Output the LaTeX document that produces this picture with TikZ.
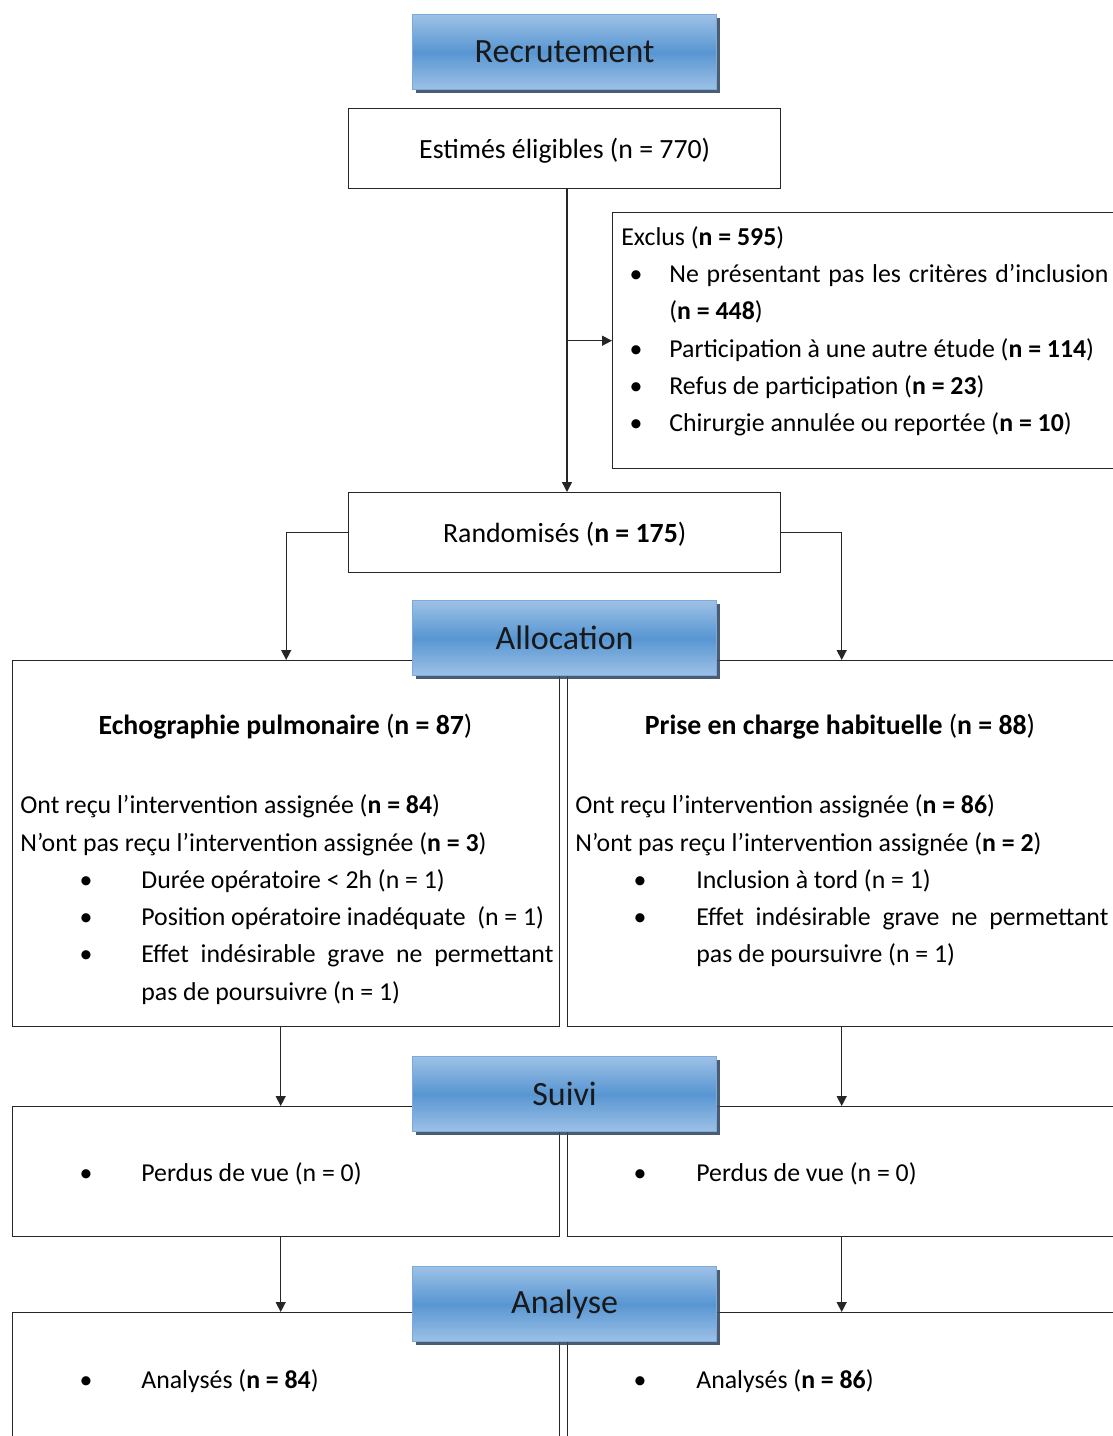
\documentclass[tikz,border=0pt]{standalone}
\usepackage{fontspec}
\setmainfont{Carlito}
\usetikzlibrary{arrows.meta,shadows}

\definecolor{hdrlight}{RGB}{157,193,230}
\definecolor{hdrmid}{RGB}{88,150,210}
\definecolor{hdredge}{RGB}{125,170,220}
\definecolor{hdrshade}{RGB}{55,75,100}

\newcommand\flowtext{\fontsize{12.9}{15}\selectfont}
\newcommand\flowbig{\fontsize{13.9}{16}\selectfont}
\newcommand\flowhead{\fontsize{17}{20}\selectfont}
\newcommand\nb[1]{(\textbf{n = #1})}
\newcommand\lowered[1]{\raisebox{-5pt}[0pt][0pt]{#1}}
\newcommand\flowitem[5]{
  \node[dot] (#1b) at (#2,#4) {\textbullet};
  \node[txt] (#1) at (#3,#4) {#5};
}

\tikzset{
  box/.style={draw=black!85, line width=0.7pt, fill=white, inner sep=0pt,
    anchor=north west, font=\flowbig},
  hdr/.style={draw=hdredge, line width=0.6pt, top color=hdrlight,
    bottom color=hdrlight, middle color=hdrmid, minimum width=152pt,
    minimum height=37.5pt, anchor=north west, font=\flowhead, text=black!90,
    drop shadow={shadow xshift=1.6pt, shadow yshift=-1.6pt, fill=hdrshade, opacity=0.9}},
  txt/.style={inner sep=0pt, font=\flowtext, anchor=base west},
  dot/.style={inner sep=0pt, font=\flowtext, anchor=base},
  arr/.style={-{Triangle[width=5pt,length=5pt]}, line width=0.7pt, draw=black!85},
}

\begin{document}
\begin{tikzpicture}[x=0.5pt, y=-0.5pt]
  \useasboundingbox (0,0) rectangle (1113,1436);
  \clip (0,0) rectangle (1113,1436);
  \coordinate (trunk) at (567,0);

  % boxes
  \node[box, minimum width=216pt, minimum height=40pt] (est) at (348,108) {\lowered{Estimés éligibles (n = 770)}};
  \node[box, minimum width=252pt, minimum height=128pt] (excl) at (612,212) {};
  \node[box, minimum width=216pt, minimum height=40pt] (rand) at (348,492) {\lowered{Randomisés \nb{175}}};
  \node[box, minimum width=273.5pt, minimum height=183pt] (L1) at (12,660) {};
  \node[box, minimum width=274pt, minimum height=183pt] (R1) at (567,660) {};
  \node[box, minimum width=273.5pt, minimum height=65pt] (L2) at (12,1106) {};
  \node[box, minimum width=274pt, minimum height=65pt] (R2) at (567,1106) {};
  \node[box, minimum width=273.5pt, minimum height=75pt] (L3) at (12,1312) {};
  \node[box, minimum width=274pt, minimum height=75pt] (R3) at (567,1312) {};

  % exclus
  \node[txt] (ex0) at (621,245) {Exclus \nb{595}};
  \flowitem{ex1}{636}{669}{282}{\makebox[219.5pt][s]{Ne présentant pas les critères d’inclusion}}
  \node[txt] (ex1c) at (669,319) {\nb{448}};
  \flowitem{ex2}{636}{669}{357}{Participation à une autre étude \nb{114}}
  \flowitem{ex3}{636}{669}{394}{Refus de participation \nb{23}}
  \flowitem{ex4}{636}{669}{431}{Chirurgie annulée ou reportée \nb{10}}

  % allocation
  \node[txt, font=\flowbig, anchor=base] (L1t) at (285.5,734) {\textbf{Echographie pulmonaire} \nb{87}};
  \node[txt] (L1a) at (20,813) {Ont reçu l’intervention assignée \nb{84}};
  \node[txt] (L1n) at (20,851) {N’ont pas reçu l’intervention assignée \nb{3}};
  \flowitem{L1i}{86}{141}{888}{Durée opératoire < 2h (n = 1)}
  \flowitem{L1j}{86}{141}{925}{Position opératoire inadéquate \ (n = 1)}
  \flowitem{L1k}{86}{141}{962}{\makebox[206pt][s]{Effet indésirable grave ne permettant}}
  \node[txt] (L1l) at (141,1000) {pas de poursuivre (n = 1)};

  \node[txt, font=\flowbig, anchor=base] (R1t) at (840,734) {\textbf{Prise en charge habituelle} \nb{88}};
  \node[txt] (R1a) at (575,813) {Ont reçu l’intervention assignée \nb{86}};
  \node[txt] (R1n) at (575,851) {N’ont pas reçu l’intervention assignée \nb{2}};
  \flowitem{R1i}{640}{696}{888}{Inclusion à tord (n = 1)}
  \flowitem{R1k}{640}{696}{925}{\makebox[206pt][s]{Effet indésirable grave ne permettant}}
  \node[txt] (R1l) at (696,962) {pas de poursuivre (n = 1)};

  % suivi, analyse
  \flowitem{L2i}{86}{141}{1181}{Perdus de vue (n = 0)}
  \flowitem{R2i}{640}{696}{1181}{Perdus de vue (n = 0)}
  \flowitem{L3i}{86}{141}{1388}{Analysés \nb{84}}
  \flowitem{R3i}{640}{696}{1388}{Analysés \nb{86}}

  % connectors
  \draw[arr] (est.south -| trunk) -- (rand.north -| trunk);
  \draw[arr] (excl.west -| trunk) -- (excl.west);
  \draw[arr] (rand.west) -| (L1.north);
  \draw[arr] (rand.east) -| (R1.north);
  \draw[arr] ([xshift=-2.75pt]L1.south) -- ([xshift=-2.75pt]L2.north);
  \draw[arr] (R1.south) -- (R2.north);
  \draw[arr] ([xshift=-2.75pt]L2.south) -- ([xshift=-2.75pt]L3.north);
  \draw[arr] (R2.south) -- (R3.north);

  % stage headers
  \node[hdr] (rec) at (412,14) {Recrutement};
  \node[hdr] (alloc) at (412,600) {Allocation};
  \node[hdr] (suivi) at (412,1056) {Suivi};
  \node[hdr] (analyse) at (412,1266) {Analyse};
\end{tikzpicture}
\end{document}
